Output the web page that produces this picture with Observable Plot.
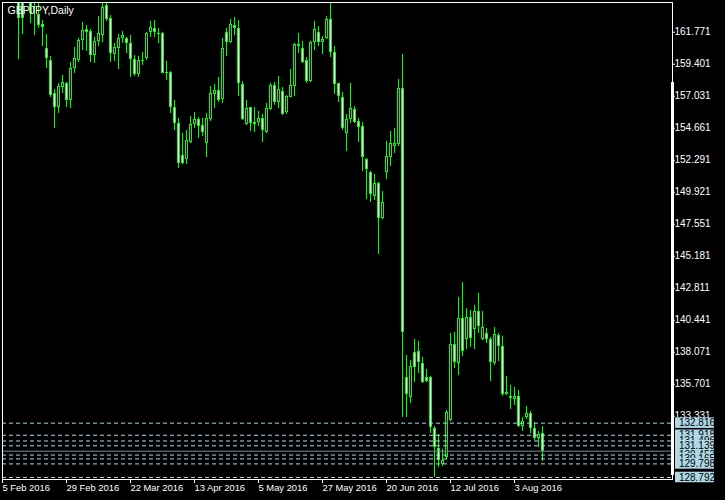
<!DOCTYPE html>
<html><head><meta charset="utf-8">
<script src="https://cdn.jsdelivr.net/npm/d3@7"></script>
<script src="https://cdn.jsdelivr.net/npm/@observablehq/plot@0.6"></script>
<style>html,body{margin:0;padding:0;background:#000;}</style>
</head><body><div id="chart"></div>
<script>
const symbolTitle = "GBPJPY,Daily";
// bar number counted in trading days from 5 Feb 2016 (bars 0-3 and 6 lie above the visible range)
const bar = [4, 5, 7, ...d3.range(8, 136)];
const open = [164.50,164.40,164.30,163.10,163.08,162.34,160.54,159.67,157.21,156.21,157.70,157.99,156.71,159.06,159.67,161.15,161.95,161.82,160.04,161.08,161.52,163.75,162.76,160.12,160.58,161.28,161.28,160.91,159.73,158.64,159.60,159.80,161.72,162.02,161.69,161.69,158.81,158.81,156.17,155.03,152.64,152.36,153.62,154.91,155.33,154.86,153.55,155.28,157.13,157.45,156.76,161.72,161.03,162.27,162.02,157.90,154.91,156.17,154.91,155.10,155.36,154.32,156.07,157.80,156.58,157.40,155.80,156.95,157.77,160.86,160.54,159.67,158.14,160.98,161.77,160.98,161.32,162.69,160.29,157.95,156.95,154.24,155.28,156.02,155.13,154.79,152.34,151.36,149.62,150.59,147.99,151.40,152.51,153.33,153.45,157.58,136.22,134.69,138.03,138.12,137.21,136.17,136.17,132.44,130.91,129.75,130.29,133.01,138.64,137.25,140.54,138.99,140.66,139.73,141.11,138.99,139.43,138.99,137.25,139.31,138.51,135.11,134.66,134.57,134.81,132.59,133.26,133.55,132.44,131.66,132.03];
const high = [164.80,164.60,164.50,164.30,163.89,162.64,161.60,159.97,157.50,157.95,158.56,158.07,159.55,160.66,161.32,162.47,162.27,161.95,161.40,162.93,163.92,163.92,163.01,160.95,161.60,161.82,161.40,161.52,160.04,159.97,160.29,161.77,162.58,162.64,162.02,161.72,159.60,158.86,156.71,155.36,154.24,154.49,155.53,155.84,155.43,155.40,155.73,157.75,157.90,158.39,161.30,162.02,162.69,162.84,162.64,158.12,156.71,156.21,156.19,155.90,155.67,156.47,157.95,158.04,158.49,157.65,157.08,159.01,160.95,161.69,161.08,159.92,161.08,162.56,162.19,161.45,162.93,163.87,160.71,158.00,157.28,155.65,157.95,156.27,155.36,155.06,152.39,151.47,151.23,150.66,149.97,153.67,154.42,154.62,158.27,160.12,137.83,137.45,139.01,138.86,137.65,136.79,136.27,132.57,131.97,130.86,133.75,139.48,139.55,142.10,143.21,141.28,141.16,141.53,142.42,141.08,139.80,139.13,139.88,139.43,139.23,136.27,135.60,135.43,135.23,133.26,134.05,133.68,132.84,132.20,132.57];
const low = [159.75,161.62,162.44,161.52,162.02,160.73,159.10,156.96,154.66,155.77,157.21,156.17,156.14,158.73,159.55,160.41,160.34,159.55,159.47,160.71,161.03,162.56,159.55,159.60,159.01,160.91,160.17,158.44,158.49,158.44,159.30,159.67,161.35,161.35,160.91,158.69,158.19,155.73,154.49,151.65,151.95,151.95,153.50,154.62,153.87,154.04,152.51,155.18,156.14,156.58,156.51,159.99,160.95,161.52,157.01,155.23,154.86,154.42,154.36,154.79,153.62,154.29,155.97,156.34,156.14,155.60,155.65,156.91,157.01,160.17,159.45,157.99,158.07,160.41,160.71,160.12,161.21,159.87,157.15,156.58,154.49,152.96,154.98,154.98,153.62,151.47,149.38,149.18,149.30,145.31,147.90,150.86,151.82,152.76,153.30,133.23,133.26,134.25,135.85,136.47,135.73,135.85,132.03,128.77,129.55,129.63,130.10,132.96,136.84,136.34,137.75,138.25,138.44,138.27,139.43,138.94,138.74,135.92,137.08,137.38,134.81,134.86,133.82,134.12,132.47,132.22,133.06,132.03,131.53,130.99,129.94];
const close = [162.76,162.76,163.13,163.05,162.27,162.10,159.80,157.08,156.17,157.75,158.04,156.71,159.06,159.80,161.15,161.87,161.77,160.04,161.08,161.65,163.62,162.69,160.17,160.61,161.28,161.52,160.91,159.73,158.64,159.67,159.67,161.65,162.10,161.72,161.62,158.73,158.69,156.21,155.03,152.07,152.07,153.75,154.91,155.28,154.79,154.36,155.36,157.21,157.45,156.71,160.54,161.03,162.34,162.02,157.95,155.30,156.10,154.98,155.08,155.38,154.49,156.10,157.80,156.58,157.50,155.65,156.98,157.80,160.86,160.71,159.55,158.12,161.01,161.95,160.98,161.21,162.71,160.29,157.87,157.03,154.65,155.28,156.10,155.10,154.73,152.47,151.58,149.73,150.54,147.99,149.13,152.56,153.50,153.50,157.58,139.55,134.91,137.03,136.96,137.28,135.85,135.92,132.47,130.99,130.05,130.05,133.58,138.64,137.33,140.54,138.14,140.66,139.06,141.11,139.99,139.92,138.99,137.33,139.36,138.51,134.91,134.91,134.81,134.81,132.57,132.96,133.55,132.39,131.70,131.97,130.74];

const dateTickBar = [0, 16, 32, 48, 64, 80, 96, 112, 128];
const dateTickLabel = ["5 Feb 2016", "29 Feb 2016", "22 Mar 2016", "13 Apr 2016", "5 May 2016", "27 May 2016", "20 Jun 2016", "12 Jul 2016", "3 Aug 2016"];
const priceTicks = [161.771, 159.401, 157.031, 154.661, 152.291, 149.921, 147.551, 145.181, 142.811, 140.441, 138.071, 135.701, 133.331];
const levels = [132.816, 131.918, 131.496, 131.139, 130.453, 130.165, 129.798, 128.792];
const bid = 130.74;
const scaleBar = [158.04, 128.94];

const data = bar.map((b, i) => ({b, o: open[i], h: high[i], l: low[i], c: close[i]}));
const labelMap = new Map(dateTickBar.map((d, i) => [d, dateTickLabel[i]]));
const yDomain = [128.643, 163.971];
const lime = "#00ff00";
const crisp = {shapeRendering: "crispEdges", clip: true};

const levelMarks = levels.flatMap(l => [
  Plot.rect([l], {x1: 168.25, x2: 178, y1: d => d - 0.39, y2: d => d + 0.39, fill: "#add8e6"}),
  Plot.text([l], {x: 169.1, y: d => d, text: d => d.toFixed(3), fill: "black", textAnchor: "start"})
]);

const chart = Plot.plot({
  width: 725, height: 500,
  marginLeft: 2, marginRight: 53, marginTop: 2, marginBottom: 21,
  style: {background: "black", color: "white", fontFamily: "'Liberation Sans', Arial, sans-serif", fontSize: "10px"},
  x: {domain: [0, 167.5], axis: "bottom", ticks: dateTickBar, tickFormat: d => labelMap.get(d), tickSize: 4, tickPadding: 1, label: null},
  y: {domain: yDomain, axis: "right", ticks: priceTicks, tickFormat: d => d.toFixed(3), tickSize: 2, tickPadding: 0, label: null},
  marks: [
    Plot.ruleX(data, {x: "b", y1: "l", y2: "h", stroke: lime, ...crisp}),
    Plot.rect(data, {x1: d => d.b - 0.375, x2: d => d.b + 0.375, y1: "o", y2: "c", fill: lime, ...crisp}),
    Plot.rect(data, {x1: d => d.b - 0.125, x2: d => d.b + 0.125, y1: "o", y2: "c", insetTop: 1, insetBottom: 1,
      fill: d => d.c < d.o ? "white" : "black", ...crisp}),
    Plot.ruleY(levels, {stroke: "#add8e6", strokeDasharray: "4,3"}),
    Plot.ruleY([bid], {stroke: "#778899"}),
    Plot.frame({stroke: "white"}),
    Plot.ruleX([167.5], {y1: scaleBar[1], y2: scaleBar[0], stroke: "white", strokeWidth: 3}),
    ...levelMarks,
    Plot.text([symbolTitle], {frameAnchor: "top-left", dx: 5, dy: 4, lineAnchor: "top", text: d => d, fill: "white", fontSize: 10.5})
  ],
  color: {type: "identity"}
});
document.getElementById("chart").appendChild(chart);
d3.select(chart).selectAll('[aria-label^="x-axis"]').attr("text-anchor", "start").attr("font-size", "9.4px");
d3.select(chart).selectAll('[aria-label^="x-axis"] text').attr("text-anchor", "start").attr("font-size", "9.4px");
</script>
</body></html>
